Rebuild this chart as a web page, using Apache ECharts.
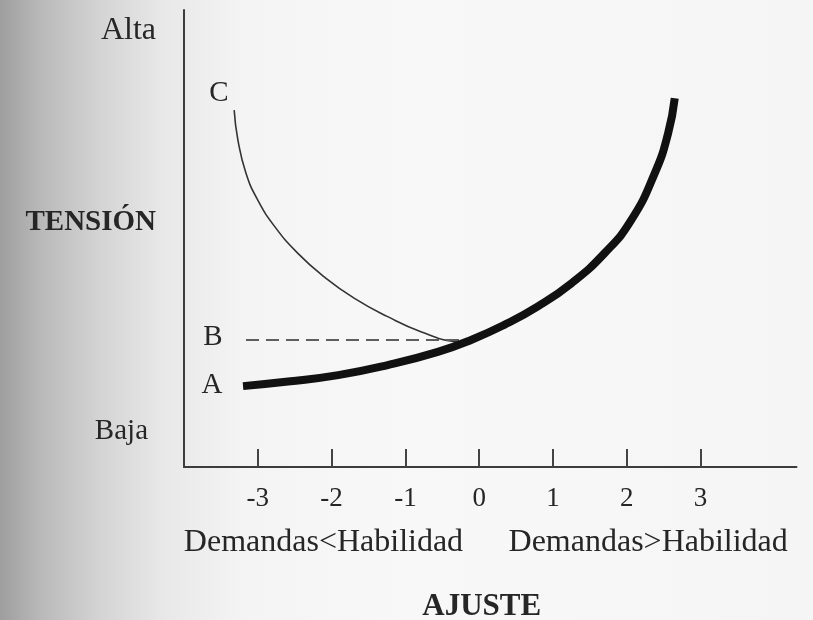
<!DOCTYPE html>
<html><head><meta charset="utf-8">
<script src="https://cdn.jsdelivr.net/npm/echarts@6/dist/echarts.min.js"></script>
<style>html,body{margin:0;padding:0;background:#f5f5f5}#c{width:813px;height:620px}</style>
</head><body><div id="c"></div>
<script>
// ---- data ----
const xTicks = [-3, -2, -1, 0, 1, 2, 3];
const yLabelValues = [0.77, 5.36, 9.56];
const yLabelTexts = ['Baja', 'TENSIÓN', 'Alta'];
const sideValues = [-2.11, 2.29];
const sideTexts = ['Demandas<Habilidad', 'Demandas>Habilidad'];
const xName = 'AJUSTE';

// curve A (thick)
const curveAX = [-3.20, -2.59, -1.91, -1.24, -0.56, -0.11, 0.34, 0.79, 1.25, 1.70, 2.06, 2.38, 2.56, 2.65];
const curveAY = [1.77, 1.87, 2.01, 2.23, 2.52, 2.78, 3.11, 3.51, 4.02, 4.68, 5.40, 6.43, 7.30, 8.07];
// curve C (thin)
const curveCX = [-3.32, -3.27, -3.16, -3.00, -2.77, -2.46, -2.10, -1.69, -1.24, -0.79, -0.33, -0.24];
const curveCY = [7.81, 7.16, 6.43, 5.84, 5.26, 4.68, 4.16, 3.69, 3.29, 2.96, 2.74, 2.73];
// level B (dashed)
const lineBX = [-3.16, -0.24];
const lineBY = [2.78, 2.78];
const seriesLabels = ['A', 'C', 'B'];

const FONT = '"Liberation Serif", "Times New Roman", serif';
const TXT = '#262626';

function build(xs, ys, name, labelOpt) {
  return xs.map((x, i) => {
    if (i === 0) {
      return {
        value: [x, ys[i]],
        symbol: 'circle', symbolSize: 1,
        itemStyle: { color: 'transparent', borderWidth: 0 },
        label: Object.assign({
          show: true, formatter: name, position: 'left',
          fontFamily: FONT, fontSize: 29, color: TXT
        }, labelOpt)
      };
    }
    return [x, ys[i]];
  });
}

const chart = echarts.init(document.getElementById('c'), null, { renderer: 'canvas' });
chart.setOption({
  animation: false,
  backgroundColor: {
    type: 'linear', x: 0, y: 0, x2: 1, y2: 0,
    colorStops: [
      { offset: 0, color: '#9e9e9e' },
      { offset: 0.05, color: '#b9b9b9' },
      { offset: 0.12, color: '#d3d3d3' },
      { offset: 0.2, color: '#e8e8e8' },
      { offset: 0.3, color: '#f4f4f4' },
      { offset: 0.5, color: '#f8f8f8' },
      { offset: 1, color: '#f5f5f5' }
    ]
  },
  grid: { left: 184, right: 16.5, top: 10, bottom: 153, containLabel: false, outerBoundsMode: 'none' },
  xAxis: [{
    type: 'value', min: -4, max: 4.3, interval: 1,
    name: xName, nameLocation: 'middle', nameGap: 124,
    nameTextStyle: { fontFamily: FONT, fontWeight: 'bold', fontSize: 31, color: TXT, padding: [0, 17, 0, 0] },
    axisLine: { show: true, onZero: false, lineStyle: { color: '#3c3c3c', width: 2 } },
    axisTick: { show: true, inside: true, length: 18, customValues: xTicks, lineStyle: { color: '#444', width: 2 } },
    axisLabel: { customValues: xTicks, margin: 18, fontFamily: FONT, fontSize: 27, color: TXT },
    splitLine: { show: false }
  }, {
    type: 'value', min: -4, max: 4.3, position: 'bottom',
    axisLine: { show: false, onZero: false }, axisTick: { show: false }, splitLine: { show: false },
    axisLabel: {
      customValues: sideValues, margin: 60, fontFamily: FONT, fontSize: 32, color: TXT,
      formatter: v => sideTexts[sideValues.indexOf(v)] || ''
    }
  }],
  yAxis: {
    type: 'value', min: 0, max: 10,
    axisLine: { show: true, onZero: false, lineStyle: { color: '#3c3c3c', width: 2 } },
    axisTick: { show: false }, splitLine: { show: false },
    axisLabel: {
      customValues: yLabelValues, margin: 28, color: TXT,
      formatter: v => {
        const t = yLabelTexts[yLabelValues.indexOf(v)] || '';
        if (t === 'TENSIÓN') return '{b|' + t + '}';
        if (t === 'Baja') return '{lo|' + t + '}';
        return '{hi|' + t + '}';
      },
      rich: {
        b: { fontFamily: FONT, fontWeight: 'bold', fontSize: 29, color: TXT },
        lo: { fontFamily: FONT, fontSize: 29, color: TXT, padding: [0, 8, 0, 0] },
        hi: { fontFamily: FONT, fontSize: 32, color: TXT }
      }
    }
  },
  series: [{
    name: 'A', type: 'line', symbol: 'none', smooth: 0.5,
    lineStyle: { color: '#111', width: 8, cap: 'butt' },
    data: build(curveAX, curveAY, seriesLabels[0], { distance: 20, offset: [0, -1] }),
    z: 3, silent: true
  }, {
    name: 'C', type: 'line', symbol: 'none', smooth: 0.5,
    lineStyle: { color: '#333', width: 1.6 },
    data: build(curveCX, curveCY, seriesLabels[1], { distance: 5, offset: [0, -17] }),
    z: 2, silent: true
  }, {
    name: 'B', type: 'line', symbol: 'none',
    lineStyle: { color: '#5e5e5e', width: 2, type: [13, 7] },
    data: build(lineBX, lineBY, seriesLabels[2], { distance: 23, offset: [0, -3] }),
    z: 2, silent: true
  }]
});
</script>
</body></html>
